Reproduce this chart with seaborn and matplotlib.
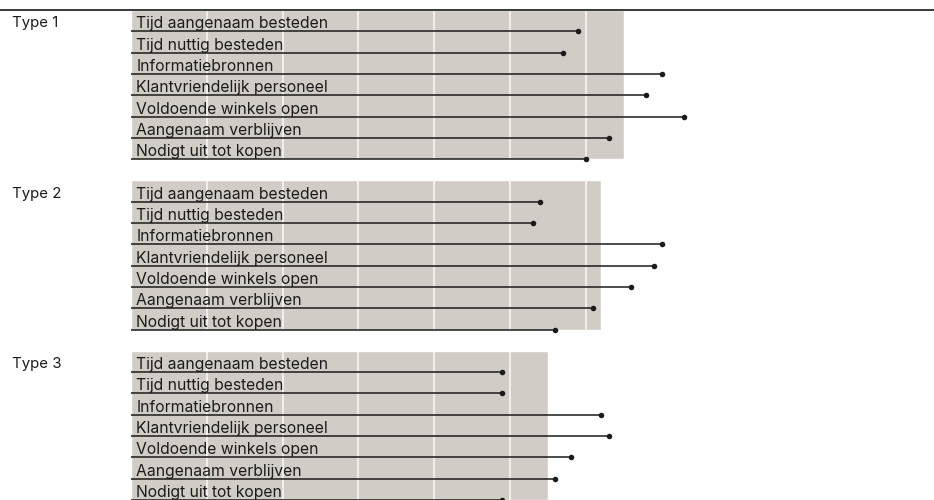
import numpy as np
import pandas as pd
import matplotlib
matplotlib.use("Agg")
import matplotlib.pyplot as plt
import seaborn as sns

# Data (score per item, per shop type)
types = ["Type 1", "Type 2", "Type 3"]
items = ["Tijd aangenaam besteden", "Tijd nuttig besteden", "Informatiebronnen",
         "Klantvriendelijk personeel", "Voldoende winkels open",
         "Aangenaam verblijven", "Nodigt uit tot kopen"]
type1_scores = [5.9, 5.7, 7.0, 6.8, 7.3, 6.3, 6.0]
type2_scores = [5.4, 5.3, 7.0, 6.9, 6.6, 6.1, 5.6]
type3_scores = [4.9, 4.9, 6.2, 6.3, 5.8, 5.6, 4.9]
overall_scores = [6.5, 6.2, 5.5]

sns.set_style("white")
plt.rcParams['font.family'] = ['Inter', 'DejaVu Sans']

ink = "#1b1b1b"
band = "#d1cdc6"

# long table: one row per (type, item); y = bottom of the row (row units)
rows = []
for g, scores in enumerate([type1_scores, type2_scores, type3_scores]):
    for i, (item, s) in enumerate(zip(items, scores)):
        rows.append({"type": types[g], "item": item, "score": s, "y": g * 8 + i + 1})
df = pd.DataFrame(rows)

fig = plt.figure(figsize=(9.34, 5.0), dpi=100)
ax = fig.add_axes([0, 0, 1, 490 / 500])

# --- grey band per type, length = overall score ---
for g, t in enumerate(types):
    top = g * 8
    ax.barh(top + 3.5, overall_scores[g], height=7, left=0, color=band, zorder=0)
    ticks = np.arange(1, int(np.ceil(overall_scores[g])))
    ax.vlines(ticks, top, top + 7, color="#f7f7f5", lw=1.2, zorder=1)
    ax.text(-1.57, top + 0.81, t, fontsize=10.8, color=ink, va="baseline", ha="left")

# --- lollipop lines + dots ---
ax.hlines(df["y"], 0, df["score"], color=ink, lw=1.1, zorder=2)
sns.scatterplot(data=df, x="score", y="y", color=ink, s=16, linewidth=0, zorder=3, ax=ax, legend=False)

for _, r in df.iterrows():
    ax.text(0.07, r["y"] - 0.14, r["item"], fontsize=11.3, color=ink, va="baseline", ha="left", zorder=4)

ax.set_xlim(-131 / 75.8, (934 - 131) / 75.8)
ax.set_ylim(23, 0)
ax.set_xticks([])
ax.set_yticks([])
ax.set_xlabel("")
ax.set_ylabel("")
for side in ["left", "right", "bottom"]:
    ax.spines[side].set_visible(False)
ax.spines["top"].set_color("#2a2a2a")
ax.spines["top"].set_linewidth(1.3)

fig.savefig("out.png", dpi=100)
